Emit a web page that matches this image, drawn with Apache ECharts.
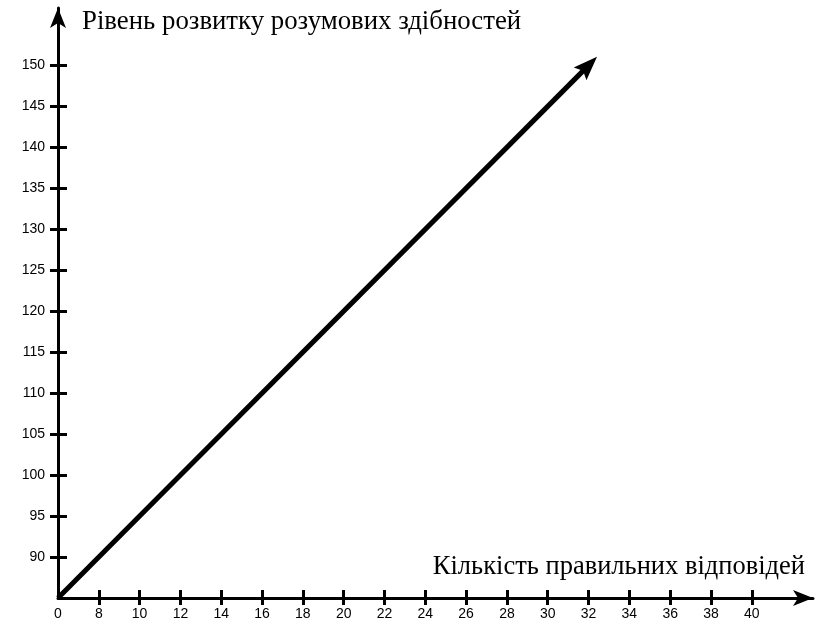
<!DOCTYPE html>
<html>
<head>
<meta charset="utf-8">
<script src="https://cdn.jsdelivr.net/npm/echarts@6/dist/echarts.min.js"></script>
<style>
  html, body { margin: 0; padding: 0; background: #fff; }
  #chart { width: 816px; height: 624px; }
</style>
</head>
<body>
<div id="chart"></div>
<script>
// tick values on the x axis (origin is drawn as "0")
var xTickValues = [6, 8, 10, 12, 14, 16, 18, 20, 22, 24, 26, 28, 30, 32, 34, 36, 38, 40];
var xTickLabels = ['0', '8', '10', '12', '14', '16', '18', '20', '22', '24', '26', '28', '30', '32', '34', '36', '38', '40'];
var yTickValues = [90, 95, 100, 105, 110, 115, 120, 125, 130, 135, 140, 145, 150];
var yTickLabels = ['90', '95', '100', '105', '110', '115', '120', '125', '130', '135', '140', '145', '150'];
// the arrow line (start, end)
var lineX = [6, 32];
var lineY = [85, 150];

var yTitle = 'Рівень розвитку розумових здібностей';
var xTitle = 'Кількість правильних відповідей';

var chart = echarts.init(document.getElementById('chart'));

var tickStyle = { color: '#000', width: 3 };
var labelFont = { color: '#000', fontSize: 14, fontFamily: 'Liberation Sans' };
// solid arrow head with a shallow notch
var arrowHead = 'path://M5,0 L10,14 L5,11.5 L0,14 Z';

function xFmt(v) {
  var i = xTickValues.indexOf(v);
  return i < 0 ? '' : xTickLabels[i];
}
function yFmt(v) {
  var i = yTickValues.indexOf(v);
  return i < 0 ? '' : yTickLabels[i];
}

var option = {
  animation: false,
  grid: { left: 58, right: 3, top: 8, bottom: 26, containLabel: false },
  xAxis: [
    {
      type: 'value', min: 6, max: 43, position: 'bottom',
      axisLine: { show: true, onZero: false, symbol: ['none', 'arrow'], symbolSize: [12, 20], lineStyle: { color: '#000', width: 3 } },
      axisTick: { show: true, customValues: xTickValues.slice(1), length: 7, lineStyle: tickStyle },
      axisLabel: Object.assign({ customValues: xTickValues, formatter: xFmt, margin: 9 }, labelFont),
      splitLine: { show: false }
    },
    {
      type: 'value', min: 6, max: 43, position: 'bottom',
      axisLine: { show: false, onZero: false },
      axisTick: { show: true, inside: true, customValues: xTickValues.slice(1), length: 8, lineStyle: tickStyle },
      axisLabel: { show: false },
      splitLine: { show: false }
    }
  ],
  yAxis: [
    {
      type: 'value', min: 85, max: 157, position: 'left',
      axisLine: { show: true, onZero: false, symbol: ['none', 'arrow'], symbolSize: [12, 20], lineStyle: { color: '#000', width: 3 } },
      axisTick: { show: true, customValues: yTickValues, length: 8, lineStyle: tickStyle },
      axisLabel: Object.assign({ customValues: yTickValues, formatter: yFmt, margin: 13 }, labelFont),
      splitLine: { show: false }
    },
    {
      type: 'value', min: 85, max: 157, position: 'left',
      axisLine: { show: false, onZero: false },
      axisTick: { show: true, inside: true, customValues: yTickValues, length: 9, lineStyle: tickStyle },
      axisLabel: { show: false },
      splitLine: { show: false }
    }
  ],
  graphic: [
    {
      type: 'text', x: 82, y: 22,
      style: { text: yTitle, fontSize: 26.8, fontFamily: 'Liberation Serif', fill: '#000', align: 'left', verticalAlign: 'middle' }
    },
    {
      type: 'text', x: 805, y: 567,
      style: { text: xTitle, fontSize: 26.5, fontFamily: 'Liberation Serif', fill: '#000', align: 'right', verticalAlign: 'middle' }
    }
  ],
  series: [
    {
      type: 'lines',
      coordinateSystem: 'cartesian2d',
      xAxisIndex: 0,
      yAxisIndex: 0,
      symbol: ['none', arrowHead],
      symbolSize: [1, [18, 24]],
      lineStyle: { color: '#000', width: 5, opacity: 1, curveness: 0 },
      data: [{ coords: lineX.map(function (x, i) { return [x, lineY[i]]; }) }]
    }
  ]
};

chart.setOption(option);
</script>
</body>
</html>
